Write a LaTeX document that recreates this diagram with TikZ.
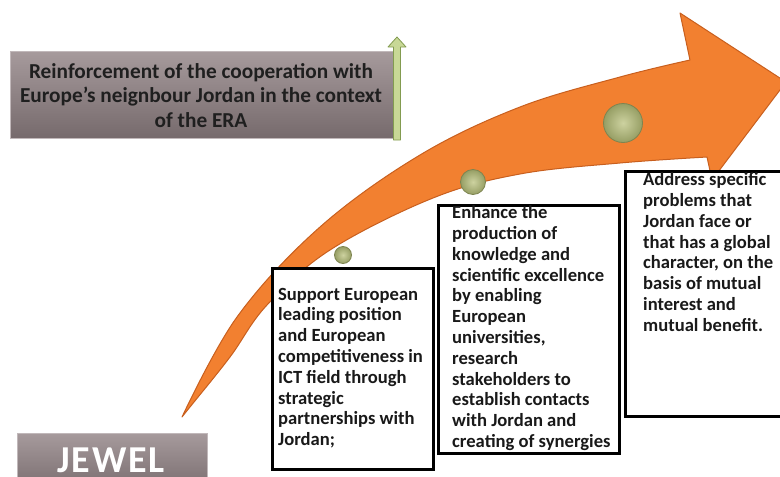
\documentclass[tikz,border=0pt]{standalone}
\usepackage{fontspec}
\setmainfont{Carlito}
\definecolor{arroworange}{RGB}{242,128,48}
\definecolor{arrowedge}{RGB}{200,95,30}
\definecolor{graytop}{RGB}{166,154,156}
\definecolor{graybot}{RGB}{118,106,108}
\definecolor{dotin}{RGB}{205,210,160}
\definecolor{dotout}{RGB}{150,158,100}
\definecolor{dotedge}{RGB}{125,132,80}
\definecolor{greenfill}{RGB}{200,216,150}
\definecolor{greenedge}{RGB}{130,155,80}
\begin{document}
\begin{tikzpicture}[x=1pt,y=-1pt,
  frame/.style={draw=black, line width=3pt, fill=white, inner sep=0pt, anchor=north west},
  bodytext/.style={inner sep=0pt, anchor=north west, align=left,
    font=\fontsize{18.6}{20.8}\selectfont\bfseries, text=black!90},
  dot/.style={circle, inner sep=0pt, draw=dotedge, line width=0.8pt, inner color=dotin, outer color=dotout},
  graybox/.style={inner sep=0pt, anchor=north west, top color=graytop, bottom color=graybot, draw=graytop!70!white, line width=0.8pt}
]
\useasboundingbox (0,0) rectangle (780,477);
% curved arrow
\filldraw[fill=arroworange, draw=arrowedge, line width=1pt, line join=round]
  plot[smooth, tension=0.6] coordinates {(182,417) (237,317) (320,227) (420,155) (520,107) (620,77) (690,60)}
  -- (680,13) -- (786,82) -- (712,180) --
  plot[smooth, tension=0.6] coordinates {(707,157) (620,163) (520,174) (433,198) (330,250) (267,305) (230,357) (190,407) (182,417)}
  -- cycle;
% dots
\node[dot, minimum size=17] (d1) at (343,255) {};
\node[dot, minimum size=25] (d2) at (473,182) {};
\node[dot, minimum size=39] (d3) at (623,123) {};
% title box
\node[graybox, minimum width=383, minimum height=87] (title) at (10,51) {};
\node[inner sep=0pt, anchor=north, align=center, font=\fontsize{21.3}{24.8}\selectfont\bfseries, text=black!88] (titletext) at (201,60.6)
  {\strut Reinforcement of the cooperation with\\ Europe’s neignbour Jordan in the context\\ of the ERA};
% green arrow
\filldraw[fill=greenfill, draw=greenedge, line width=0.8pt, line join=round]
  (393.5,140) -- (393.5,47) -- (388,47) -- (397,37) -- (406,47) -- (400.5,47) -- (400.5,140) -- cycle;
% JEWEL box
\node[graybox, minimum width=190, minimum height=60] (jewel) at (17,433) {};
\node[inner sep=0pt, anchor=base, font=\fontsize{38}{38}\selectfont\bfseries\addfontfeature{LetterSpace=5}, text=white] (jeweltext) at (111,472) {JEWEL};
% text boxes
\node[frame, minimum width=161, minimum height=201] (b1) at (270.5,266.5) {};
\node[frame, minimum width=181, minimum height=248] (b2) at (436.5,203.5) {};
\node[frame, minimum width=170, minimum height=245] (b3) at (623.5,169.5) {};
\node[bodytext] (t1) at (278,285.4) {\strut Support European\\ leading position\\ and European\\ competitiveness in\\ ICT field through\\ strategic\\ partnerships with\\ Jordan;};
\node[bodytext] (t2) at (452,204) {\strut Enhance the\\ production of\\ knowledge and\\ scientific excellence\\ by enabling\\ European\\ universities,\\ research\\ stakeholders to\\ establish contacts\\ with Jordan and\\ creating of synergies};
\node[bodytext] (t3) at (643,171) {\strut Address specific\\ problems that\\ Jordan face or\\ that has a global\\ character, on the\\ basis of mutual\\ interest and\\ mutual benefit.};
\end{tikzpicture}
\end{document}
